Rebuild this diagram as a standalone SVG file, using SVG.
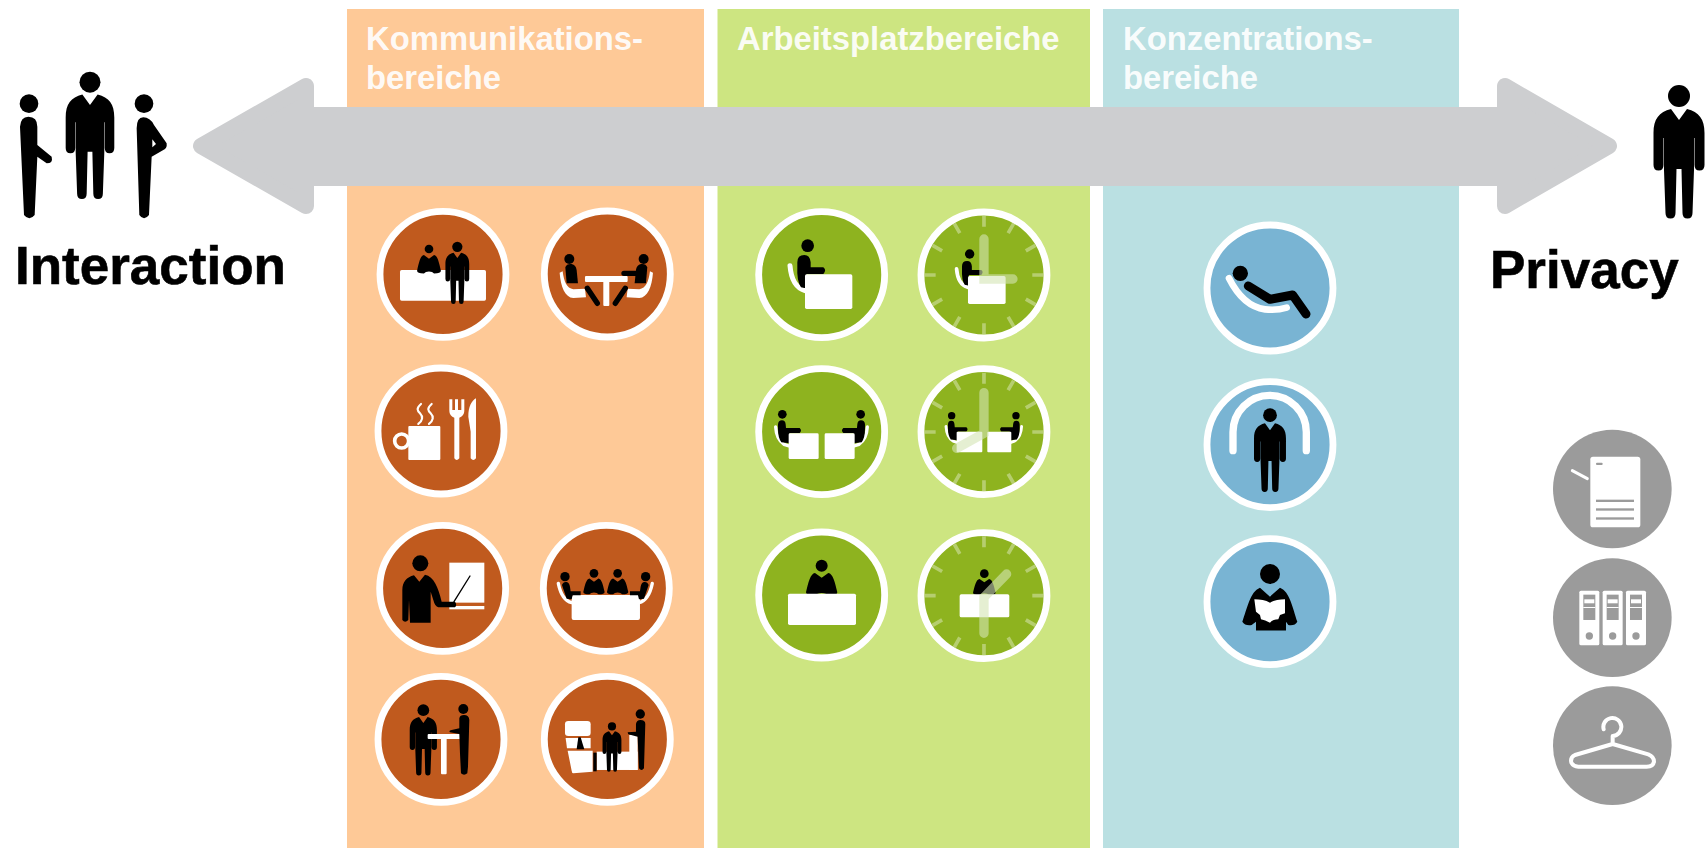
<svg xmlns="http://www.w3.org/2000/svg" width="1707" height="848" viewBox="0 0 1707 848">
<style>
text{font-family:"Liberation Sans",Arial,sans-serif;font-weight:700}
.h{font-size:32.800px;fill:#fff;fill-opacity:.93}
.t{font-size:53px;fill:#000;stroke:#000;stroke-width:.6}
.r{stroke:#fff;stroke-width:20.5}
.o{fill:#c05a1e}.g{fill:#8eb31f}.b{fill:#79b4d3}.y{fill:#9b9b9b}
.w{fill:#fff}.k{fill:#000}
.ws{stroke:#fff;fill:none;stroke-linecap:round;stroke-linejoin:round}
.ks{stroke:#000;fill:none;stroke-linecap:round;stroke-linejoin:round}
.tick{stroke:#fff;stroke-opacity:.36;stroke-width:11;fill:none}
.hand{stroke:#d4e4b4;stroke-opacity:.6;stroke-width:28;stroke-linecap:round;fill:none}
.ar{fill:#cdced0;stroke:#cdced0;stroke-width:16;stroke-linejoin:round}
</style>
<defs>
<g id="man"><circle cx="0" cy="11" r="11"/><path d="M-8,24 L0,35 L8,24 C20,27 25.500,34 25.500,48 L25.500,80 Q25.500,85.500 20.500,85.500 Q15.500,85.500 15.500,80 L15.500,53 L15,53 L15,85 L13.500,128 Q13.500,133.500 8.500,133.500 Q3.500,133.500 3.500,128 L2.500,84 L-2.500,84 L-3.500,128 Q-3.500,133.500 -8.500,133.500 Q-13.500,133.500 -13.500,128 L-15,85 L-15,53 L-15.500,53 L-15.500,80 Q-15.500,85.500 -20.500,85.500 Q-25.500,85.500 -25.500,80 L-25.500,48 C-25.500,34 -20,27 -8,24Z"/></g>
<g id="seat"><path class="ws" stroke-width="15" d="M-53,60 Q-48,123 -8,135"/><circle r="19"/><path d="M-31,50 Q-31,28 -10,28 Q7,28 9,50 L9,65 L47,65 Q58,73 47,85 L-3,85 L-6,128 L-20,125 Q-33,105 -31,63Z"/></g>
<g id="seat2"><path class="ws" stroke-width="10" d="M-20,38 Q-18,75 5,90 L20,95"/><circle r="13"/><path d="M-13,30 Q-12,18 -1,18 Q9,18 10,30 L11,41 L52,41 Q60,48 52,56 L22,56 L22,87 L-3,84 Q-13,70 -13,45Z"/></g>
<g id="bust"><path d="M-20,22 L0,36 L20,22 C34,24 40,50 47,80 Q47,90 20,90 L12,84 Q0,80 -12,84 L-20,90 Q-47,90 -47,80 C-40,50 -34,24 -20,22Z"/></g>
<g id="ticks"><path class="tick" d="M0,-178V-145M0,178V145M-178,0H-145M178,0H145M89,-154.200L72.500,-125.600M-89,-154.200L-72.500,-125.600M89,154.200L72.500,125.600M-89,154.200L-72.500,125.600M154.200,-89L125.600,-72.500M-154.200,-89L-125.600,-72.500M154.200,89L125.600,72.500M-154.200,89L-125.600,72.500"/></g>
</defs>
<rect width="1707" height="848" fill="#fff"/>
<g id="columns">
<rect x="347" y="9" width="357" height="839" fill="#fec997"/>
<rect x="717.500" y="9" width="372.500" height="839" fill="#cde581"/>
<rect x="1103" y="9" width="356" height="839" fill="#bae0e2"/>
<text class="h" x="366" y="50">Kommunikations-</text>
<text class="h" x="366" y="88.500">bereiche</text>
<text class="h" x="737" y="50">Arbeitsplatzbereiche</text>
<text class="h" x="1123" y="50">Konzentrations-</text>
<text class="h" x="1123" y="88.500">bereiche</text>
</g>
<g id="connectors">
<rect x="300" y="107" width="1210" height="79" fill="#cdced0"/>
<path class="ar" d="M201,146 L306,86 V206Z"/>
<path class="ar" d="M1609,146 L1505,86 V206Z"/>
</g>
<g id="interaction">
<g transform="scale(.3333) translate(0 180)">
<circle cx="87" cy="131" r="28"/>
<path d="M60,200 Q62,170 85,170 Q112,170 112,200 L112,255 L155,290 Q160,310 140,310 L112,290 L104,465 Q88,485 72,465Z"/>
<use href="#man" transform="translate(270 35) scale(2.86)"/>
<circle cx="432" cy="131" r="28"/>
<path d="M410,205 Q410,172 430,172 Q450,172 462,195 L500,250 Q502,265 490,270 L455,290 L447,465 Q432,485 418,465Z"/>
<path class="w" d="M457,238 L468,252 L457,262Z"/>
</g>
<text class="t" x="15" y="284">Interaction</text>
</g>
<g id="privacy">
<use href="#man" transform="translate(1679 85)"/>
<text class="t" x="1490" y="288">Privacy</text>
</g>
<g id="k1" transform="translate(340 190) scale(.3333)">
<circle class="o r" cx="309" cy="253" r="189"/>
<rect class="w" x="180" y="240" width="258" height="92" rx="5"/>
<use href="#bust" transform="translate(267 177) scale(.76 .82)"/>
<circle cx="267" cy="177" r="13"/>
<use href="#man" transform="translate(352 155) scale(1.4)"/>
</g>
<g id="k2" transform="translate(340 190) scale(.3333)">
<circle class="o r" cx="802" cy="252" r="189"/>
<path class="w" d="M659,248 L668,244 C672,275 680,295 700,298 L735,296 L738,322 L700,324 C675,322 662,290 659,248Z"/>
<path class="w" d="M939,248 L930,244 C926,275 918,295 898,298 L863,296 L860,322 L898,324 C923,322 936,290 939,248Z"/>
<rect class="w" x="735" y="258" width="128" height="18" rx="3"/>
<rect class="w" x="790" y="268" width="18" height="80" rx="3"/>
<circle cx="688" cy="207" r="15"/><circle cx="911" cy="207" r="15"/>
<path d="M676,232 Q680,220 695,222 Q708,225 710,240 L714,280 L680,280Z"/>
<path d="M922,232 Q918,220 903,222 Q890,225 888,240 L884,280 L918,280Z"/>
<path class="ks" stroke-width="16" d="M905,250 H852M742,295 L772,340M856,295 L826,340"/>
</g>
<g id="k3" transform="translate(340 190) scale(.3333)">
<circle class="o r" cx="303" cy="723" r="189"/>
<rect class="w" x="205" y="708" width="96" height="102" rx="3"/>
<circle class="ws" cx="185" cy="753" r="21" stroke-width="11"/>
<path class="ws" stroke-width="6.500" d="M243,642 C228,655 232,662 240,670 C250,680 248,692 235,702M275,642 C260,655 264,662 272,670 C282,680 280,692 267,702"/>
<path class="w" d="M328,628 H337 V660 H345 V628 H354 V660 H364 V628 H373 V660 C373,675 366,680 358,683 V805 Q350,815 343,805 V683 C335,680 328,675 328,660Z"/>
<path class="w" d="M408,625 V805 Q400,815 392,805 V725 L385,680 C385,650 395,632 408,625Z"/>
</g>
<g id="k4" transform="translate(340 500) scale(.3333)">
<circle class="o r" cx="308" cy="265" r="189"/>
<rect class="w" x="328" y="188" width="105" height="120"/>
<rect class="w" x="328" y="318" width="105" height="10"/>
<circle cx="241" cy="190" r="24"/>
<path d="M222,226 L238,245 L255,224 C282,230 294,260 305,305 L345,305 Q352,315 345,322 L295,322 Q285,320 280,300 L272,275 L272,368 L210,368 L207,300 L205,360 Q195,370 187,360 L187,270 C187,245 200,232 222,226Z"/>
<path class="ks" stroke-width="4" d="M342,305 L390,228"/>
</g>
<g id="k5" transform="translate(340 500) scale(.3333)">
<circle class="o r" cx="799" cy="265" r="189"/>
<rect class="w" x="695" y="285" width="205" height="75" rx="6"/>
<circle cx="762" cy="220" r="13"/><circle cx="833" cy="220" r="13"/>
<use href="#bust" transform="translate(762 220) scale(.68 .7)"/>
<use href="#bust" transform="translate(833 220) scale(.68 .7)"/>
<path class="ws" stroke-width="10" d="M655,250 Q665,300 695,308M937,250 Q927,300 897,308"/>
<circle cx="675" cy="230" r="14"/><circle cx="917" cy="230" r="14"/>
<path d="M666,255 Q670,244 680,246 Q688,248 690,260 L692,274 L722,274 V286 L698,286 L695,298 L680,296Z"/>
<path d="M926,255 Q922,244 912,246 Q904,248 902,260 L900,274 L870,274 V286 L894,286 L897,298 L912,296Z"/>
</g>
<g id="k6" transform="translate(340 500) scale(.3333)">
<circle class="o r" cx="303" cy="718" r="189"/>
<use href="#man" transform="translate(250 613) scale(1.6)"/>
<rect class="w" x="303" y="710" width="17" height="113" rx="3"/>
<rect class="w" x="263" y="702" width="98" height="15" rx="3"/>
<circle cx="370" cy="627" r="15"/>
<path d="M358,655 Q360,645 372,645 Q387,645 388,660 L384,800 L382,820 Q372,828 363,820 L360,760 L358,702 L330,697 Q325,692 335,690 L358,685Z"/>
</g>
<g id="k7" transform="translate(340 500) scale(.3333)">
<circle class="o r" cx="802" cy="718" r="189"/>
<rect class="w" x="675" y="663" width="77" height="45" rx="10"/>
<path class="w" d="M677,714 H752 V745 H681Z"/>
<path class="w" d="M683,752 H758 V815 L700,820 Q696,820 695,812Z"/>
<rect class="w" x="770" y="755" width="123" height="55"/>
<rect class="w" x="868" y="705" width="25" height="105"/>
<path d="M715,712 L722,712 L733,748 L710,748Z"/>
<rect x="760" y="758" width="10" height="56"/>
<use href="#man" transform="translate(816 667) scale(1.11)"/>
<circle cx="901" cy="642" r="14"/>
<path d="M888,672 Q890,660 901,660 Q916,660 916,672 L912,805 Q905,815 897,805 L893,710 L865,703 L863,697 L888,695Z"/>
</g>
<g id="a1" transform="translate(740 190) scale(.3333)">
<circle class="g r" cx="245" cy="254" r="189"/>
<use href="#seat" transform="translate(203 167)"/>
<rect class="w" x="195" y="253" width="142" height="104" rx="5"/>
</g>
<g id="a2" transform="translate(740 190) scale(.3333)">
<circle class="g r" cx="732" cy="255" r="189"/>
<use href="#ticks" transform="translate(732 255)"/>
<use href="#seat" transform="translate(689 192) scale(.74)"/>
<rect class="w" x="684" y="258" width="113" height="84" rx="5"/>
<path class="hand" d="M732,147 V267 H819"/>
</g>
<g id="a3" transform="translate(740 190) scale(.3333)">
<circle class="g r" cx="245" cy="725" r="189"/>
<use href="#seat2" transform="translate(127 673)"/>
<use href="#seat2" transform="translate(362 673) scale(-1 1)"/>
<rect class="w" x="146" y="730" width="90" height="77" rx="4"/>
<rect class="w" x="254" y="730" width="90" height="77" rx="4"/>
</g>
<g id="a4" transform="translate(740 190) scale(.3333)">
<circle class="g r" cx="732" cy="725" r="189"/>
<use href="#ticks" transform="translate(732 726)"/>
<use href="#seat2" transform="translate(635 677) scale(.85)"/>
<use href="#seat2" transform="translate(828 677) scale(-.85 .85)"/>
<rect class="w" x="650" y="725" width="77" height="62" rx="3"/>
<rect class="w" x="742" y="725" width="72" height="62" rx="3"/>
<path class="hand" d="M732,608 V730 L650,775"/>
</g>
<g id="a5" transform="translate(740 470) scale(.3333)">
<circle class="g r" cx="245" cy="375" r="189"/>
<circle cx="245" cy="287" r="18"/>
<use href="#bust" transform="translate(245 287)"/>
<rect class="w" x="144" y="371" width="204" height="94" rx="5"/>
</g>
<g id="a6" transform="translate(740 470) scale(.3333)">
<circle class="g r" cx="732" cy="377" r="189"/>
<use href="#ticks" transform="translate(732 377)"/>
<circle cx="733" cy="311" r="13"/>
<use href="#bust" transform="translate(733 311) scale(.72)"/>
<rect class="w" x="659" y="373" width="149" height="69" rx="5"/>
<path class="hand" d="M732,490 V382 L800,312"/>
</g>
<g id="c1" transform="translate(1180 210) scale(.3333)">
<circle class="b r" cx="270" cy="234" r="189"/>
<path class="ws" stroke-width="20" d="M147,205 Q190,290 255,298 Q290,302 320,293"/>
<circle cx="181" cy="190" r="23"/>
<path class="ks" stroke-width="27" d="M205,228 L270,268 L338,255 L378,312"/>
</g>
<g id="c2" transform="translate(1180 210) scale(.3333)">
<circle class="b r" cx="270" cy="704" r="189"/>
<path class="ws" stroke-width="22" d="M159,722 V666 A110,110 0 0 1 379,666 V722"/>
<use href="#man" transform="translate(270 595) scale(1.88)"/>
</g>
<g id="c3" transform="translate(1180 210) scale(.3333)">
<circle class="b r" cx="270" cy="1175" r="189"/>
<circle cx="270" cy="1092" r="30"/>
<path d="M240,1133 L270,1160 L300,1133 C330,1145 338,1195 352,1235 Q345,1248 325,1245 L318,1235 V1262 H228 V1235 L215,1245 Q195,1248 187,1235 C202,1195 210,1145 240,1133Z"/>
<path class="w" d="M223,1168 Q250,1168 270,1178 Q290,1168 315,1168 L315,1210 L300,1215 L295,1228 Q280,1228 270,1238 Q255,1230 243,1228 L240,1215 L228,1205Z"/>
</g>
<g id="s1" transform="translate(1530 420) scale(.3333)">
<circle class="y" cx="247" cy="207" r="178"/>
<rect class="w" x="181" y="110" width="150" height="212" rx="8"/>
<rect class="y" x="198" y="128" width="20" height="7" rx="3"/>
<rect class="y" x="198" y="239" width="114" height="7"/>
<rect class="y" x="198" y="265" width="114" height="7"/>
<rect class="y" x="198" y="292" width="114" height="7"/>
<path class="ws" stroke-width="9" d="M127,152 L172,176"/>
</g>
<g id="s2" transform="translate(1530 420) scale(.3333)">
<circle class="y" cx="247" cy="593" r="178"/>
<g id="binder"><rect class="w" x="148" y="512" width="60" height="164" rx="5"/><rect class="y" x="160" y="524" width="36" height="76"/><rect class="w" x="163" y="538" width="30" height="12"/><rect class="w" x="160" y="561" width="36" height="3"/><circle class="y" cx="178" cy="648" r="11"/></g>
<use href="#binder" x="70"/>
<use href="#binder" x="140"/>
</g>
<g id="s3" transform="translate(1530 420) scale(.3333)">
<circle class="y" cx="247" cy="977" r="178"/>
<path class="ws" stroke-width="12" d="M221,928 A27,27 0 1 1 248,948 V972 L135,1005 Q120,1012 124,1028 Q130,1040 145,1040 H350 Q370,1040 372,1025 Q372,1010 355,1003 L248,972"/>
</g>
</svg>
